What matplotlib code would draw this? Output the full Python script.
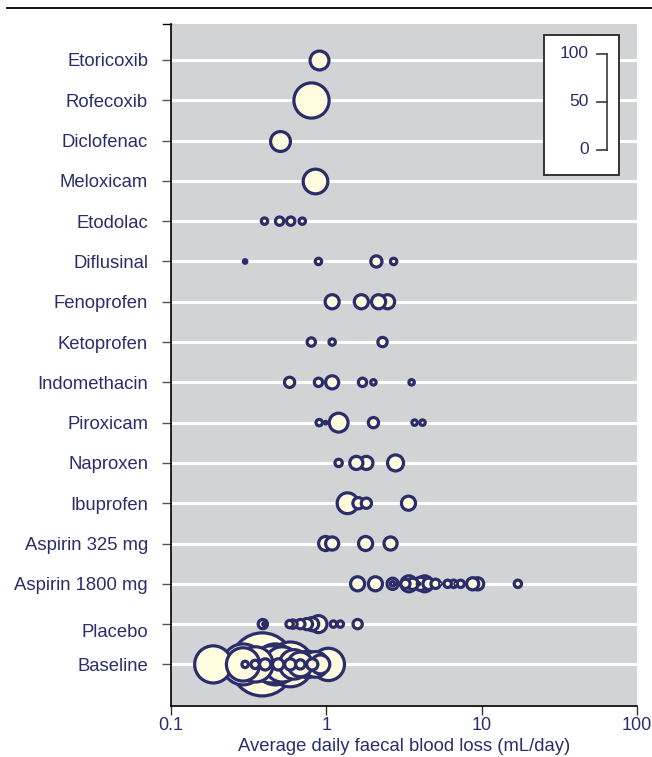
import matplotlib
matplotlib.use('Agg')

import numpy as np
import matplotlib.pyplot as plt
import matplotlib.transforms as mtransforms
from matplotlib.lines import Line2D
from matplotlib.patches import Rectangle
from matplotlib.ticker import NullLocator

plt.rcParams['font.family'] = ['Liberation Sans', 'DejaVu Sans']

# Rows, top to bottom
drugs = ['Etoricoxib', 'Rofecoxib', 'Diclofenac', 'Meloxicam', 'Etodolac',
         'Diflusinal', 'Fenoprofen', 'Ketoprofen', 'Indomethacin', 'Piroxicam',
         'Naproxen', 'Ibuprofen', 'Aspirin 325 mg', 'Aspirin 1800 mg',
         'Placebo', 'Baseline']

# Average daily faecal blood loss (mL/day) for each study, per row
blood_loss = [
    [0.90],
    [0.80],
    [0.50],
    [0.85],
    [0.40, 0.50, 0.59, 0.70],
    [0.30, 0.89, 2.10, 2.71],
    [1.09, 1.68, 2.17, 2.48],
    [0.80, 1.09, 2.30],
    [0.58, 0.89, 1.09, 1.71, 2.01, 3.54],
    [0.90, 0.99, 1.20, 2.01, 3.70, 4.16],
    [1.20, 1.56, 1.81, 2.79],
    [1.37, 1.61, 1.81, 3.38],
    [0.99, 1.09, 1.79, 2.59],
    [1.59, 2.07, 2.67, 2.67, 2.91, 3.23, 3.59, 3.92, 4.04, 4.55, 5.05,
     5.44, 6.04, 6.60, 6.80, 7.32, 8.75, 9.42, 17.1, 3.40, 4.30],
    [0.39, 0.40, 0.58, 0.61, 0.68, 0.75, 0.81, 0.89, 1.11, 1.23, 1.59],
    [0.187, 0.387, 0.291, 0.469, 0.586, 0.680, 0.754, 1.03, 0.300, 0.348,
     0.404, 0.490, 0.586, 0.680, 0.812, 0.915, 0.291,
     0.35, 0.44, 0.52, 0.62, 0.85],
]

# Study size (circle diameter on the 0-100 legend scale), per row
study_size = [
    [23],
    [40],
    [24],
    [29],
    [10, 12, 12, 10],
    [7, 10, 15, 10],
    [18, 18, 18, 18],
    [12, 10, 13],
    [14, 12, 17, 12, 9, 9],
    [10, 6, 23, 14, 9, 9],
    [11, 17, 17, 20],
    [25, 15, 14, 18],
    [18, 17, 18, 17],
    [18, 18, 15, 8, 6, 13, 15, 6, 17, 15, 13, 5, 11, 11, 5, 11, 16, 16, 11,
     20, 20],
    [13, 7, 11, 12, 13, 15, 17, 21, 10, 10, 13],
    [42, 69, 46, 46, 50, 29, 31, 37, 10, 12, 15, 15, 15, 13, 15, 23, 38,
     40, 42, 40, 34, 30],
]

x_ticks = [0.1, 1, 10, 100]
x_tick_labels = ['0.1', '1', '10', '100']
legend_sizes = [0, 50, 100]

# Styling
W, H, DPI = 652, 757, 100
PX_PER_UNIT = 0.96      # circle diameter in pixels per unit of size
EDGE_LW = 2.3
navy = '#2b2d6b'
fill = '#fffbdf'
bg = '#d1d3d5'


def fx(px):
    return px / W


def fy(py):
    return 1 - py / H


fig = plt.figure(figsize=(W / DPI, H / DPI), dpi=DPI)
ax = fig.add_axes([fx(171), fy(705.5), 466 / W, (705.5 - 24) / H])
ax.set_facecolor(bg)
ax.set_xscale('log')
ax.set_xlim(0.1, 100)
ax.set_ylim(16.02, -0.893)

rows = np.arange(len(drugs))
for r in rows:
    ax.axhline(r, color='white', lw=2.2, zorder=1)

# Circles: biggest first so the small ones stay visible
for r, xs, ns in zip(rows, blood_loss, study_size):
    order = np.argsort(ns, kind='stable')[::-1]
    xs = np.asarray(xs)[order]
    ns = np.asarray(ns, dtype=float)[order]
    d_pt = np.maximum(ns * PX_PER_UNIT * 72 / DPI - EDGE_LW, 0.6)
    ax.scatter(xs, np.full(len(xs), r), s=d_pt ** 2, facecolor=fill,
               edgecolor=navy, linewidth=EDGE_LW, zorder=3)

# Axes formatting
ax.set_yticks(rows)
ax.set_yticklabels(drugs)
ax.set_xticks(x_ticks)
ax.set_xticklabels(x_tick_labels)
ax.xaxis.set_minor_locator(NullLocator())
ax.tick_params(axis='y', length=6.5, width=1, color='#555555', pad=10,
               labelsize=13.3, labelcolor=navy)
ax.tick_params(axis='x', length=6.5, width=1, color='#333333', pad=2,
               labelsize=13, labelcolor=navy)
ax.set_xlabel('Average daily faecal blood loss (mL/day)', fontsize=13.3,
              color=navy, labelpad=3)
for side in ['top', 'right']:
    ax.spines[side].set_visible(False)
for side in ['left', 'bottom']:
    ax.spines[side].set_color('black')
    ax.spines[side].set_linewidth(1.2)

# Placebo label sits a little lower than its row
lab = ax.get_yticklabels()[drugs.index('Placebo')]
lab.set_transform(lab.get_transform() +
                  mtransforms.ScaledTranslation(0, -6 / DPI, fig.dpi_scale_trans))

# Small tick at the top of the left spine, and the rule across the top
fig.add_artist(Line2D([fx(163), fx(171)], [fy(24), fy(24)], color='black', lw=1))
fig.add_artist(Line2D([fx(7), 1], [fy(8), fy(8)], color='black', lw=1.3))

# Size legend: bracket spanning 0-100 on the circle-diameter scale
box_l, box_t, box_r, box_b = 544, 35, 619, 175
fig.add_artist(Rectangle((fx(box_l), fy(box_b)), (box_r - box_l) / W,
                         (box_b - box_t) / H, transform=fig.transFigure,
                         facecolor='white', edgecolor='#333333', lw=1.4,
                         zorder=5))
base_y = 150
bx = 607
tops = [base_y - v * PX_PER_UNIT for v in legend_sizes]
fig.add_artist(Line2D([fx(bx), fx(bx)], [fy(min(tops)), fy(max(tops))],
                      color='#3a3a3a', lw=1.2, zorder=6))
for v, yy in zip(legend_sizes, tops):
    fig.add_artist(Line2D([fx(bx - 10), fx(bx)], [fy(yy), fy(yy)],
                          color='#3a3a3a', lw=1.2, zorder=6))
    fig.text(fx(589), fy(yy), str(v), ha='right', va='center',
             fontsize=12.5, color=navy, zorder=6)

fig.savefig('out.png', dpi=DPI)
